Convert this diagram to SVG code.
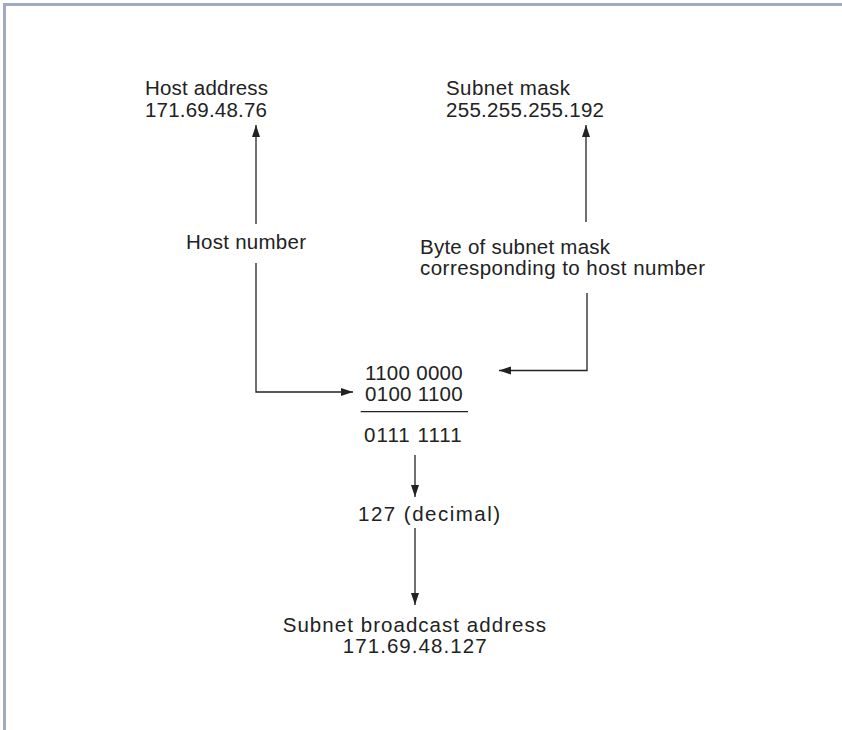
<svg xmlns="http://www.w3.org/2000/svg" width="842" height="730" viewBox="0 0 842 730">
<style>
text{font-family:"Liberation Sans",Arial,sans-serif;font-size:20.5px;fill:#222}
.big{font-size:20.5px}
.ln{stroke:#222;stroke-width:1.3;fill:none}
</style>
<defs>
<marker id="ah" markerUnits="userSpaceOnUse" markerWidth="13" markerHeight="10" viewBox="0 0 13 10" refX="12" refY="5" orient="auto">
<path d="M0,1 L12,5 L0,9 Z" fill="#222"/>
</marker>
</defs>
<rect x="0" y="0" width="842" height="730" fill="#fff"/>
<g id="frame" fill="#a0aac0">
<rect x="3" y="3" width="839" height="3"/>
<rect x="3" y="3" width="3" height="727"/>
</g>
<g id="host-address"><text x="145" y="95" textLength="123" lengthAdjust="spacing">Host address</text><text x="145" y="116.5" textLength="122" lengthAdjust="spacing">171.69.48.76</text></g>
<g id="subnet-mask"><text x="446" y="95" textLength="124" lengthAdjust="spacing">Subnet mask</text><text x="446" y="116.5" textLength="158" lengthAdjust="spacing">255.255.255.192</text></g>
<g id="host-number"><text x="186" y="249" textLength="120" lengthAdjust="spacing">Host number</text></g>
<g id="mask-byte"><text x="420" y="254" textLength="190" lengthAdjust="spacing">Byte of subnet mask</text><text x="420" y="275" textLength="285" lengthAdjust="spacing">corresponding to host number</text></g>
<g id="calc"><text x="365" y="379.5" textLength="97.7" lengthAdjust="spacing">1100 0000</text><text x="365" y="400.5" textLength="97.7" lengthAdjust="spacing">0100 1100</text><line class="ln" x1="360.7" y1="411.7" x2="468" y2="411.7"/><text x="364" y="441.5" textLength="97.7" lengthAdjust="spacing">0111 1111</text></g>
<g id="decimal"><text x="358" y="520.5" textLength="142" lengthAdjust="spacing">127 (decimal)</text></g>
<g id="broadcast"><text class="big" x="282.7" y="631.5" textLength="263.3" lengthAdjust="spacing">Subnet broadcast address</text><text class="big" x="342.7" y="652.5" textLength="144" lengthAdjust="spacing">171.69.48.127</text></g>
<g id="connectors">
<line class="ln" x1="256" y1="224" x2="256" y2="125" marker-end="url(#ah)"/>
<line class="ln" x1="586" y1="222" x2="586" y2="125" marker-end="url(#ah)"/>
<polyline class="ln" points="256,263 256,392 353,392" marker-end="url(#ah)"/>
<polyline class="ln" points="587,293 587,370.5 499,370.5" marker-end="url(#ah)"/>
<line class="ln" x1="415" y1="455" x2="415" y2="497" marker-end="url(#ah)"/>
<line class="ln" x1="415" y1="528" x2="415" y2="605" marker-end="url(#ah)"/>
</g>
</svg>
